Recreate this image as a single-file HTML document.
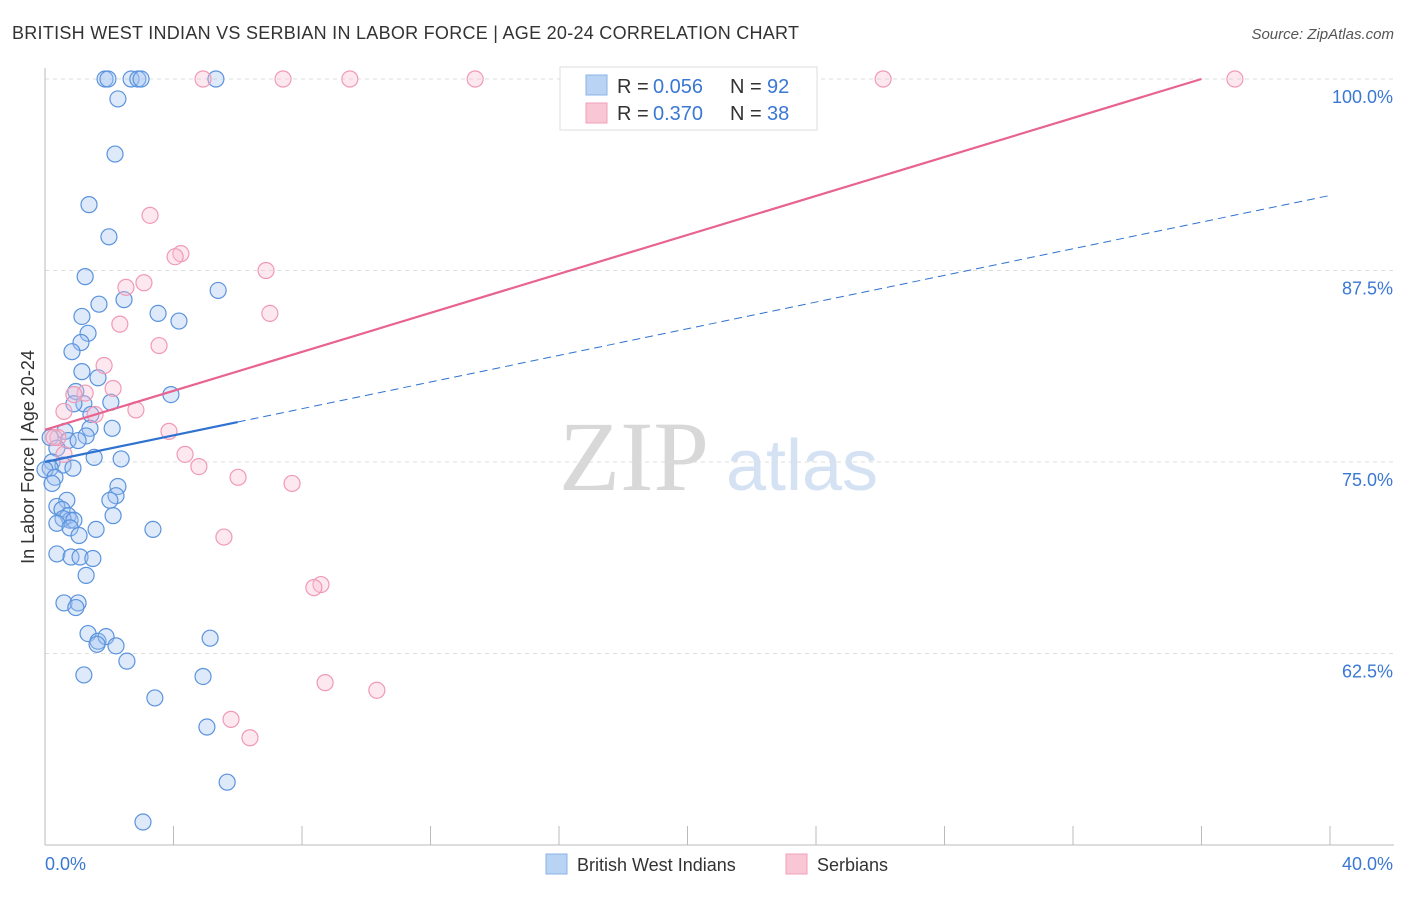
<!DOCTYPE html>
<html><head><meta charset="utf-8">
<style>
body{margin:0;background:#fff;font-family:"Liberation Sans",sans-serif;}
</style></head>
<body>
<svg id="chart" width="1406" height="892" xmlns="http://www.w3.org/2000/svg" font-family="Liberation Sans, sans-serif">
<text x="12" y="39" font-size="18" fill="#333" textLength="787">BRITISH WEST INDIAN VS SERBIAN IN LABOR FORCE | AGE 20-24 CORRELATION CHART</text>
<text x="1394" y="39" font-size="15" fill="#555" font-style="italic" text-anchor="end">Source: ZipAtlas.com</text>
<text transform="translate(34,457) rotate(-90)" font-size="18" fill="#333" text-anchor="middle">In Labor Force | Age 20-24</text>
<g>
<text x="634" y="490" font-size="100" fill="#d8d8d8" style="font-family:'Liberation Serif',serif" text-anchor="middle">ZIP</text>
<text x="802" y="490" font-size="72" fill="#d4e2f4" text-anchor="middle">atlas</text>
</g>
<g id="grid"></g><g id="axes"></g><g id="pts"></g><g id="trends"></g>
<g>
<rect x="560" y="67" width="257" height="63" fill="#fff" stroke="#ddd"/>
<rect x="586" y="75" width="21" height="20" fill="#b9d3f5" stroke="#8cb3e8"/>
<rect x="586" y="103" width="21" height="20" fill="#f9c6d5" stroke="#f0a0b8"/>
<text x="617" y="93" font-size="20" fill="#333">R =</text>
<text x="653" y="93" font-size="20" fill="#3a78d4">0.056</text>
<text x="730" y="93" font-size="20" fill="#333">N =</text>
<text x="767" y="93" font-size="20" fill="#3a78d4">92</text>
<text x="617" y="120" font-size="20" fill="#333">R =</text>
<text x="653" y="120" font-size="20" fill="#3a78d4">0.370</text>
<text x="730" y="120" font-size="20" fill="#333">N =</text>
<text x="767" y="120" font-size="20" fill="#3a78d4">38</text>
</g>
<g>
<rect x="546" y="854" width="21" height="20" fill="#b9d3f5" stroke="#8cb3e8"/>
<text x="577" y="871" font-size="18" fill="#333">British West Indians</text>
<rect x="786" y="854" width="21" height="20" fill="#f9c6d5" stroke="#f0a0b8"/>
<text x="817" y="871" font-size="18" fill="#333">Serbians</text>
</g>
</svg>
<script>
const xTicks=[0,4,8,12,16,20,24,28,32,36,40];
const yTicks=[100,87.5,75,62.5];
const yTickLabels=["100.0%","87.5%","75.0%","62.5%"];
const blueX=[1.87,1.96,2.68,2.89,2.99,5.32,2.27,2.18,1.37,1.99,1.25,5.39,1.68,2.46,1.15,3.52,4.17,1.34,1.12,0.84,1.15,1.65,3.92,0.96,1.21,2.05,0.90,1.43,1.40,2.09,1.28,0.62,0.16,0.72,0.37,1.03,1.53,2.37,0.22,0.56,0.87,0.16,0,0.31,0.22,2.27,2.21,0.68,2.02,2.12,0.37,0.53,0.72,0.78,0.56,0.90,0.37,1.59,3.36,0.78,1.06,0.37,0.81,1.09,1.49,1.28,0.59,1.03,0.96,1.34,1.65,1.90,2.21,1.62,2.55,5.14,4.92,1.21,3.42,5.04,5.67,3.05];
const blueY=[100,100,100,100,100,100,98.7,95.1,91.8,89.7,87.1,86.2,85.3,85.6,84.5,84.7,84.2,83.4,82.8,82.2,80.9,80.5,79.4,79.6,78.8,78.9,78.8,78.1,77.2,77.2,76.7,77.0,76.6,76.4,75.9,76.4,75.3,75.2,75.0,74.8,74.6,74.6,74.5,74.0,73.6,73.4,72.8,72.5,72.5,71.5,72.1,71.9,71.5,71.2,71.3,71.2,71.0,70.6,70.6,70.7,70.2,69.0,68.8,68.8,68.7,67.6,65.8,65.8,65.5,63.8,63.3,63.6,63.0,63.1,62.0,63.5,61.0,61.1,59.6,57.7,54.1,51.5];
const pinkX=[4.92,7.41,9.49,13.39,16.53,26.09,37.04,3.27,4.23,4.05,6.88,2.52,3.08,2.33,7.00,3.55,1.84,1.25,2.12,0.90,0.59,2.83,1.56,0.40,0.28,3.86,4.36,4.79,6.01,7.69,5.57,8.59,8.37,8.72,10.33,5.79,6.38,0.59];
const pinkY=[100,100,100,100,100,100,100,91.1,88.6,88.4,87.5,86.4,86.7,84.0,84.7,82.6,81.3,79.5,79.8,79.4,78.3,78.4,78.1,76.6,76.6,77.0,75.5,74.7,74.0,73.6,70.1,67.0,66.8,60.6,60.1,58.2,57.0,75.5];
const blueTrend=[75.0,92.4];
const blueSolidEnd=6;
const pinkTrend=[77.1,100];
const pinkEnd=36;

const NS="http://www.w3.org/2000/svg";
const sx=v=>45+v*32.125;
const sy=v=>79+(100-v)*15.32;
function mk(tag,attrs,parent){const e=document.createElementNS(NS,tag);for(const k in attrs)e.setAttribute(k,attrs[k]);parent.appendChild(e);return e;}
const grid=document.getElementById('grid'),axes=document.getElementById('axes'),pts=document.getElementById('pts'),tr=document.getElementById('trends');
yTicks.forEach((t,i)=>{
  const l=mk('line',{x1:45,x2:1394,y1:sy(t),y2:sy(t),stroke:'#ddd','stroke-dasharray':'4,4'},grid);
  
  
  const tx=mk('text',{x:1393,y:sy(t)+24,'font-size':18,fill:'#3a78d4','text-anchor':'end'},axes);
  tx.textContent=yTickLabels[i];
  
  
});
const xa=mk('line',{x1:45,x2:1394,y1:845,y2:845,stroke:'#bbb'},axes);


const ya=mk('line',{x1:45,x2:45,y1:68,y2:845,stroke:'#bbb'},axes);


xTicks.forEach(t=>{
  const l=mk('line',{x1:sx(t),x2:sx(t),y1:826,y2:845,stroke:'#bbb'},axes);
  
  
});
const xl0=mk('text',{x:45,y:870,'font-size':18,fill:'#3a78d4'},axes);xl0.textContent='0.0%';


const xl1=mk('text',{x:1393,y:870,'font-size':18,fill:'#3a78d4','text-anchor':'end'},axes);xl1.textContent='40.0%';


blueX.forEach((x,i)=>{
  const c=mk('circle',{cx:sx(x),cy:sy(blueY[i]),r:8,fill:'rgba(160,196,240,0.35)',stroke:'#5b93dd','stroke-width':1.2},pts);
  
  
});
pinkX.forEach((x,i)=>{
  const c=mk('circle',{cx:sx(x),cy:sy(pinkY[i]),r:8,fill:'rgba(248,190,208,0.35)',stroke:'#f09ab5','stroke-width':1.2},pts);
  
  
});
const bAt=x=>blueTrend[0]+(blueTrend[1]-blueTrend[0])*x/40;
const pAt=x=>pinkTrend[0]+(pinkTrend[1]-pinkTrend[0])*x/pinkEnd;
const b1=mk('line',{x1:sx(0),y1:sy(bAt(0)),x2:sx(blueSolidEnd),y2:sy(bAt(blueSolidEnd)),stroke:'#2f72d0','stroke-width':2.2},tr);


const b2=mk('line',{x1:sx(blueSolidEnd),y1:sy(bAt(blueSolidEnd)),x2:sx(40),y2:sy(bAt(40)),stroke:'#2f72d0','stroke-width':1,'stroke-dasharray':'8,5'},tr);


const p1=mk('line',{x1:sx(0),y1:sy(pAt(0)),x2:sx(pinkEnd),y2:sy(pAt(pinkEnd)),stroke:'#e8638f','stroke-width':2.2},tr);


</script>
</body></html>
